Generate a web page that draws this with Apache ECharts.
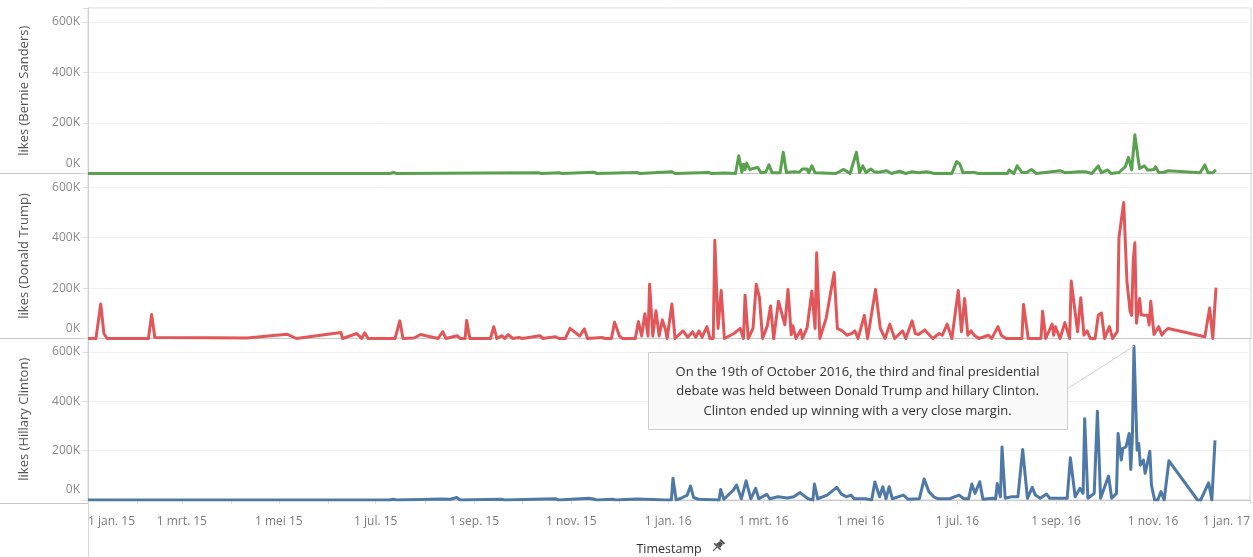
<!DOCTYPE html>
<html>
<head>
<meta charset="utf-8">
<script src="https://cdn.jsdelivr.net/npm/echarts@6/dist/echarts.min.js"></script>
<style>
  html, body { margin: 0; padding: 0; background: #fff; }
  #chart { width: 1253px; height: 557px; }
</style>
</head>
<body>
<div id="chart"></div>
<script>
// likes per tweet
const sanders = [
  ['2015-01-01', 0], ['2015-07-10', 0], ['2015-07-12', 4000], ['2015-07-14', 0],
  ['2015-10-11', 3000], ['2015-10-13', 0], ['2015-10-24', 3000], ['2015-10-26', 0],
  ['2015-11-15', 5000], ['2015-11-17', 0], ['2015-12-12', 4000], ['2015-12-14', 0],
  ['2016-01-03', 7000], ['2016-01-05', 0], ['2016-01-26', 4000], ['2016-01-28', 0],
  ['2016-02-05', 2000], ['2016-02-12', 0], ['2016-02-14', 70000], ['2016-02-16', 5000],
  ['2016-02-17', 37000], ['2016-02-18', 15000], ['2016-02-19', 41000], ['2016-02-21', 15000],
  ['2016-02-23', 20000], ['2016-02-26', 24000], ['2016-02-28', 3000], ['2016-03-02', 5000],
  ['2016-03-04', 34000], ['2016-03-06', 3000], ['2016-03-11', 3000], ['2016-03-13', 84000],
  ['2016-03-15', 4000], ['2016-03-20', 7000], ['2016-03-23', 5000], ['2016-03-25', 18000],
  ['2016-03-28', 18000], ['2016-03-29', 3000], ['2016-03-31', 30000], ['2016-04-02', 3000],
  ['2016-04-15', 0], ['2016-04-20', 16000], ['2016-04-24', 0], ['2016-04-28', 84000],
  ['2016-04-30', 4000], ['2016-05-02', 30000], ['2016-05-04', 4000], ['2016-05-07', 18000],
  ['2016-05-09', 7000], ['2016-05-12', 5000], ['2016-05-17', 11000], ['2016-05-20', 0],
  ['2016-05-25', 9000], ['2016-05-29', 0], ['2016-06-02', 7000], ['2016-06-06', 3000],
  ['2016-06-11', 7000], ['2016-06-16', 0], ['2016-06-27', 0], ['2016-06-30', 47000],
  ['2016-07-02', 37000], ['2016-07-04', 3000], ['2016-07-07', 4000], ['2016-07-11', 4000],
  ['2016-07-14', 0], ['2016-08-01', 0], ['2016-08-02', 14000], ['2016-08-05', 0],
  ['2016-08-07', 30000], ['2016-08-10', 4000], ['2016-08-13', 4000], ['2016-08-16', 16000],
  ['2016-08-19', 0], ['2016-09-03', 11000], ['2016-09-06', 3000], ['2016-09-15', 7000],
  ['2016-09-19', 7000], ['2016-09-23', 0], ['2016-09-27', 30000], ['2016-09-29', 3000],
  ['2016-10-03', 14000], ['2016-10-05', 0], ['2016-10-10', 4000], ['2016-10-14', 27000],
  ['2016-10-16', 64000], ['2016-10-18', 14000], ['2016-10-20', 153000], ['2016-10-22', 61000],
  ['2016-10-23', 20000], ['2016-10-26', 30000], ['2016-10-28', 14000], ['2016-10-30', 14000],
  ['2016-11-01', 16000], ['2016-11-02', 27000], ['2016-11-04', 4000], ['2016-11-07', 4000],
  ['2016-11-10', 11000], ['2016-11-30', 3000], ['2016-12-03', 34000], ['2016-12-05', 3000],
  ['2016-12-08', 3000], ['2016-12-10', 14000]
];

const trump = [
  ['2015-01-01', 0], ['2015-01-06', 0], ['2015-01-09', 137000], ['2015-01-11', 20000],
  ['2015-01-13', 0], ['2015-02-08', 0], ['2015-02-10', 95000], ['2015-02-12', 4000],
  ['2015-03-17', 3000], ['2015-04-11', 2000], ['2015-05-06', 17000], ['2015-05-12', 0],
  ['2015-06-09', 24000], ['2015-06-10', 0], ['2015-06-19', 20000], ['2015-06-22', 0],
  ['2015-06-24', 23000], ['2015-06-26', 0], ['2015-07-13', 0], ['2015-07-16', 70000],
  ['2015-07-18', 0], ['2015-07-25', 2000], ['2015-07-29', 16000], ['2015-08-09', 0],
  ['2015-08-12', 27000], ['2015-08-14', 0], ['2015-08-21', 11000], ['2015-08-23', 0],
  ['2015-08-26', 0], ['2015-08-27', 71000], ['2015-08-29', 0], ['2015-09-11', 0],
  ['2015-09-13', 47000], ['2015-09-15', 0], ['2015-09-18', 11000], ['2015-09-20', 0],
  ['2015-09-22', 16000], ['2015-09-25', 0], ['2015-09-29', 4000], ['2015-10-01', 0],
  ['2015-10-12', 11000], ['2015-10-14', 0], ['2015-10-17', 3000], ['2015-10-22', 7000],
  ['2015-10-24', 0], ['2015-10-28', 0], ['2015-10-31', 40000], ['2015-11-06', 10000],
  ['2015-11-09', 38000], ['2015-11-11', 0], ['2015-11-20', 4000], ['2015-11-22', 0],
  ['2015-11-26', 0], ['2015-11-28', 65000], ['2015-12-01', 10000], ['2015-12-03', 0],
  ['2015-12-11', 0], ['2015-12-13', 67000], ['2015-12-15', 10000], ['2015-12-17', 98000],
  ['2015-12-19', 10000], ['2015-12-20', 215000], ['2015-12-22', 10000], ['2015-12-24', 110000],
  ['2015-12-26', 10000], ['2015-12-28', 74000], ['2015-12-30', 35000], ['2015-12-31', 0],
  ['2016-01-03', 137000], ['2016-01-05', 0], ['2016-01-10', 30000], ['2016-01-13', 5000],
  ['2016-01-16', 27000], ['2016-01-18', 5000], ['2016-01-20', 30000], ['2016-01-22', 5000],
  ['2016-01-25', 47000], ['2016-01-27', 0], ['2016-01-29', 0], ['2016-01-30', 390000],
  ['2016-02-01', 40000], ['2016-02-03', 191000], ['2016-02-05', 0], ['2016-02-11', 20000],
  ['2016-02-15', 40000], ['2016-02-17', 0], ['2016-02-18', 172000], ['2016-02-20', 0],
  ['2016-02-23', 40000], ['2016-02-25', 215000], ['2016-02-27', 164000], ['2016-02-29', 0],
  ['2016-03-03', 50000], ['2016-03-05', 129000], ['2016-03-07', 0], ['2016-03-10', 148000],
  ['2016-03-14', 54000], ['2016-03-16', 195000], ['2016-03-18', 15000], ['2016-03-19', 51000],
  ['2016-03-21', 0], ['2016-03-24', 34000], ['2016-03-25', 0], ['2016-03-28', 43000],
  ['2016-03-31', 189000], ['2016-04-02', 40000], ['2016-04-03', 340000], ['2016-04-05', 0],
  ['2016-04-09', 81000], ['2016-04-14', 262000], ['2016-04-16', 40000], ['2016-04-19', 30000],
  ['2016-04-22', 13000], ['2016-04-25', 20000], ['2016-04-27', 30000], ['2016-04-29', 0],
  ['2016-05-03', 92000], ['2016-05-05', 0], ['2016-05-10', 195000], ['2016-05-13', 40000],
  ['2016-05-16', 0], ['2016-05-19', 57000], ['2016-05-22', 0], ['2016-05-27', 30000],
  ['2016-05-29', 0], ['2016-06-02', 70000], ['2016-06-04', 20000], ['2016-06-06', 16000],
  ['2016-06-10', 34000], ['2016-06-13', 13000], ['2016-06-15', 0], ['2016-06-19', 20000],
  ['2016-06-21', 13000], ['2016-06-24', 57000], ['2016-06-27', 0], ['2016-07-01', 191000],
  ['2016-07-03', 27000], ['2016-07-05', 159000], ['2016-07-07', 13000], ['2016-07-09', 30000],
  ['2016-07-11', 13000], ['2016-07-14', 0], ['2016-07-20', 13000], ['2016-07-22', 0],
  ['2016-07-26', 47000], ['2016-07-28', 13000], ['2016-07-31', 0], ['2016-08-10', 0],
  ['2016-08-11', 135000], ['2016-08-14', 0], ['2016-08-22', 0], ['2016-08-23', 108000],
  ['2016-08-25', 0], ['2016-08-29', 57000], ['2016-08-30', 13000], ['2016-08-31', 47000],
  ['2016-09-03', 0], ['2016-09-06', 63000], ['2016-09-09', 0], ['2016-09-10', 228000],
  ['2016-09-14', 27000], ['2016-09-16', 162000], ['2016-09-18', 13000], ['2016-09-20', 30000],
  ['2016-09-22', 0], ['2016-09-25', 0], ['2016-09-27', 92000], ['2016-09-29', 101000],
  ['2016-10-01', 0], ['2016-10-04', 47000], ['2016-10-06', 0], ['2016-10-09', 27000],
  ['2016-10-10', 400000], ['2016-10-13', 540000], ['2016-10-15', 229000], ['2016-10-17', 108000],
  ['2016-10-18', 92000], ['2016-10-19', 310000], ['2016-10-20', 380000], ['2016-10-21', 61000],
  ['2016-10-23', 159000], ['2016-10-24', 94000], ['2016-10-26', 92000], ['2016-10-28', 92000],
  ['2016-10-29', 54000], ['2016-10-30', 148000], ['2016-11-01', 16000], ['2016-11-04', 47000],
  ['2016-11-06', 13000], ['2016-11-08', 30000], ['2016-11-10', 40000], ['2016-12-03', 7000],
  ['2016-12-06', 121000], ['2016-12-08', 0], ['2016-12-09', 0], ['2016-12-10', 202000]
];

const clinton = [
  ['2015-01-01', 0], ['2015-07-10', 0], ['2015-07-12', 3000], ['2015-07-14', 0],
  ['2015-07-30', 2000], ['2015-08-11', 4000], ['2015-08-17', 3000], ['2015-08-21', 10000],
  ['2015-08-23', 0], ['2015-09-18', 3000], ['2015-09-20', 0], ['2015-10-22', 5000],
  ['2015-10-24', 0], ['2015-11-12', 7000], ['2015-11-15', 4000], ['2015-11-17', 0],
  ['2015-11-27', 3000], ['2015-11-29', 0], ['2015-12-12', 4000], ['2015-12-22', 2000],
  ['2015-12-30', 0], ['2016-01-03', 0], ['2016-01-04', 88000], ['2016-01-06', 0],
  ['2016-01-10', 10000], ['2016-01-13', 20000], ['2016-01-15', 57000], ['2016-01-17', 10000],
  ['2016-01-20', 3000], ['2016-02-02', 0], ['2016-02-03', 43000], ['2016-02-05', 3000],
  ['2016-02-11', 40000], ['2016-02-13', 61000], ['2016-02-16', 5000], ['2016-02-19', 78000],
  ['2016-02-22', 5000], ['2016-02-25', 47000], ['2016-02-27', 5000], ['2016-03-03', 23000],
  ['2016-03-05', 5000], ['2016-03-10', 13000], ['2016-03-16', 8000], ['2016-03-20', 13000],
  ['2016-03-24', 30000], ['2016-03-26', 20000], ['2016-03-29', 5000], ['2016-04-01', 0],
  ['2016-04-02', 65000], ['2016-04-04', 5000], ['2016-04-10', 20000], ['2016-04-16', 51000],
  ['2016-04-19', 24000], ['2016-04-22', 13000], ['2016-04-25', 20000], ['2016-04-27', 5000],
  ['2016-05-04', 5000], ['2016-05-08', 0], ['2016-05-10', 73000], ['2016-05-13', 13000],
  ['2016-05-15', 54000], ['2016-05-17', 5000], ['2016-05-19', 54000], ['2016-05-21', 5000],
  ['2016-05-28', 20000], ['2016-05-31', 3000], ['2016-06-07', 5000], ['2016-06-10', 85000],
  ['2016-06-13', 34000], ['2016-06-16', 13000], ['2016-06-19', 5000], ['2016-06-26', 5000],
  ['2016-07-02', 20000], ['2016-07-05', 5000], ['2016-07-08', 5000], ['2016-07-10', 65000],
  ['2016-07-12', 27000], ['2016-07-15', 74000], ['2016-07-17', 3000], ['2016-07-23', 7000],
  ['2016-07-25', 5000], ['2016-07-26', 67000], ['2016-07-28', 13000], ['2016-07-29', 215000],
  ['2016-07-31', 7000], ['2016-08-04', 13000], ['2016-08-08', 13000], ['2016-08-11', 205000],
  ['2016-08-14', 7000], ['2016-08-17', 51000], ['2016-08-19', 20000], ['2016-08-22', 7000],
  ['2016-08-26', 24000], ['2016-08-28', 7000], ['2016-09-02', 7000], ['2016-09-08', 7000],
  ['2016-09-10', 171000], ['2016-09-13', 13000], ['2016-09-16', 47000], ['2016-09-18', 27000],
  ['2016-09-19', 330000], ['2016-09-21', 7000], ['2016-09-25', 27000], ['2016-09-27', 360000],
  ['2016-09-29', 7000], ['2016-10-04', 97000], ['2016-10-06', 7000], ['2016-10-09', 27000],
  ['2016-10-10', 270000], ['2016-10-12', 162000], ['2016-10-13', 209000], ['2016-10-15', 215000],
  ['2016-10-17', 270000], ['2016-10-18', 124000], ['2016-10-19', 256000], ['2016-10-20', 624000],
  ['2016-10-22', 202000], ['2016-10-23', 229000], ['2016-10-24', 141000], ['2016-10-26', 162000],
  ['2016-10-27', 108000], ['2016-10-28', 135000], ['2016-10-30', 198000], ['2016-10-31', 60000],
  ['2016-11-02', 0], ['2016-11-04', 0], ['2016-11-06', 34000], ['2016-11-08', 0],
  ['2016-11-11', 159000], ['2016-11-29', 0], ['2016-12-01', 0], ['2016-12-06', 70000],
  ['2016-12-08', 0], ['2016-12-10', 242000]
];

const panelNames = ['likes (Bernie Sanders)', 'likes (Donald Trump)', 'likes (Hillary Clinton)'];
const panelColors = ['#59a14f', '#e15759', '#4e79a7'];
const yTicks = [0, 200000, 400000, 600000];
const xLabelDates = [
  '2015-01-01', '2015-03-01', '2015-05-01', '2015-07-01', '2015-09-01', '2015-11-01',
  '2016-01-01', '2016-03-01', '2016-05-01', '2016-07-01', '2016-09-01', '2016-11-01',
  '2017-01-01'
];
const monthNames = ['jan.', 'feb.', 'mrt.', 'apr.', 'mei', 'jun.', 'jul.', 'aug.', 'sep.', 'okt.', 'nov.', 'dec.'];
const annotationLines = [
  'On the 19th of October 2016, the third and final presidential',
  'debate was held between Donald Trump and hillary Clinton.',
  'Clinton ended up winning with a very close margin.'
];

const FONT = 'Open Sans';
const toTime = s => { const p = s.split('-').map(Number); return new Date(p[0], p[1] - 1, p[2]).getTime(); };
const xMin = toTime('2015-01-01');
const xMax = toTime('2017-01-01');
const labelTimes = xLabelDates.map(toTime);
const monthTimes = [];
for (let y = 2015; y <= 2016; y++) for (let m = 0; m < 12; m++) monthTimes.push(new Date(y, m, 1).getTime());
monthTimes.push(xMax);

const seriesData = [sanders, trump, clinton].map(arr => arr.map(d => [toTime(d[0]), d[1]]));

const gridTops = [8, 173.5, 338.5];
const gridH = [165.5, 165, 165];

const chart = echarts.init(document.getElementById('chart'));

const option = {
  animation: false,
  grid: gridTops.map((t, i) => ({
    left: 88, right: 2, top: t, height: gridH[i],
    show: true, borderColor: '#d6d6d6', borderWidth: 1
  })),
  xAxis: [0, 1, 2].map(i => ({
    type: 'value',
    gridIndex: i,
    min: xMin,
    max: xMax,
    axisLine: { show: true, lineStyle: { color: '#c8c8c8', width: 1 } },
    splitLine: { show: false },
    axisTick: i === 2
      ? { show: true, customValues: monthTimes, length: 4, lineStyle: { color: '#e2e2e2' } }
      : { show: false },
    axisLabel: i === 2
      ? {
          show: true,
          customValues: labelTimes,
          alignMinLabel: 'left',
          alignMaxLabel: 'right',
          margin: 16,
          color: '#7a7a7a',
          fontFamily: FONT,
          fontSize: 12,
          formatter: v => {
            const d = new Date(v);
            return '1 ' + monthNames[d.getMonth()] + ' ' + String(d.getFullYear()).slice(2);
          }
        }
      : { show: false },
    name: i === 2 ? 'Timestamp' : '',
    nameLocation: 'middle',
    nameGap: 43,
    nameTextStyle: { color: '#333', fontFamily: FONT, fontSize: 12.5 }
  })),
  yAxis: [0, 1, 2].map(i => ({
    type: 'value',
    gridIndex: i,
    min: 0,
    max: 655000,
    interval: 200000,
    name: panelNames[i],
    nameLocation: 'middle',
    nameGap: 57,
    nameTextStyle: { color: '#555', fontFamily: FONT, fontSize: 13 },
    axisLine: { show: true, lineStyle: { color: '#d0d0d0' } },
    axisTick: { show: true, length: 5, lineStyle: { color: '#dcdcdc' } },
    splitLine: { show: true, lineStyle: { color: '#f0f0f0', width: 1 } },
    axisLabel: {
      margin: 8,
      color: '#8a8a8a',
      fontFamily: FONT,
      fontSize: 12,
      formatter: v => {
        if (v === 0) return '{z|0K}';
        return yTicks.indexOf(v) >= 0 ? (v / 1000) + 'K' : '';
      },
      rich: { z: { color: '#8a8a8a', fontFamily: FONT, fontSize: 12, padding: [0, 0, 20, 0] } }
    }
  })),
  series: seriesData.map((data, i) => ({
    type: 'line',
    xAxisIndex: i,
    yAxisIndex: i,
    data: data,
    showSymbol: false,
    symbol: 'none',
    lineStyle: { color: panelColors[i], width: 3, join: 'round' },
    itemStyle: { color: panelColors[i] },
    z: 3
  }))
};
chart.setOption(option);

// annotation pointing at the Clinton peak
const peak = seriesData[2].reduce((a, b) => (b[1] > a[1] ? b : a));
const pk = chart.convertToPixel({ seriesIndex: 2 }, peak);
const box = { x: 648, y: 352, w: 419, h: 77 };

chart.setOption({
  graphic: {
    elements: [
      // separators across the title column
      ...[173.5, 338.5, 503.5].map((y, i) => ({
        type: 'line', id: 'sep' + i, silent: true,
        shape: { x1: 0, y1: y, x2: 88, y2: y },
        style: { stroke: '#c8c8c8', lineWidth: 1 }
      })),
      {
        type: 'line', id: 'axisExt', silent: true,
        shape: { x1: 88.5, y1: 503.5, x2: 88.5, y2: 557 },
        style: { stroke: '#d6d6d6', lineWidth: 1 }
      },
      {
        type: 'line', id: 'leader', silent: true, z: 10,
        shape: { x1: box.x + box.w, y1: box.y + 37, x2: pk[0], y2: pk[1] },
        style: { stroke: '#cfcfcf', lineWidth: 1 }
      },
      {
        type: 'rect', id: 'annBox', silent: true, z: 11,
        shape: { x: box.x + 0.5, y: box.y + 0.5, width: box.w, height: box.h },
        style: { fill: '#f9f9f9', stroke: '#cfcfcf', lineWidth: 1 }
      },
      ...annotationLines.map((t, i) => ({
        type: 'text', id: 'ann' + i, silent: true, z: 12,
        x: box.x + box.w / 2, y: box.y + 20 + i * 19.5,
        style: {
          text: t, fill: '#333', font: '13px "' + FONT + '"',
          textAlign: 'center', textVerticalAlign: 'middle'
        }
      })),
      // pin icon next to the axis title
      {
        type: 'group', id: 'pin', silent: true, x: 718, y: 546, rotation: -Math.PI / 4,
        children: [
          { type: 'rect', shape: { x: -3, y: -7, width: 6, height: 2 }, style: { fill: '#555' } },
          { type: 'polygon', shape: { points: [[-2, -5], [2, -5], [3, 0], [-3, 0]] }, style: { fill: '#555' } },
          { type: 'rect', shape: { x: -4.5, y: 0, width: 9, height: 1.6 }, style: { fill: '#555' } },
          { type: 'line', shape: { x1: 0, y1: 1.5, x2: 0, y2: 7 }, style: { stroke: '#555', lineWidth: 1.2 } }
        ]
      }
    ]
  }
});
</script>
</body>
</html>
